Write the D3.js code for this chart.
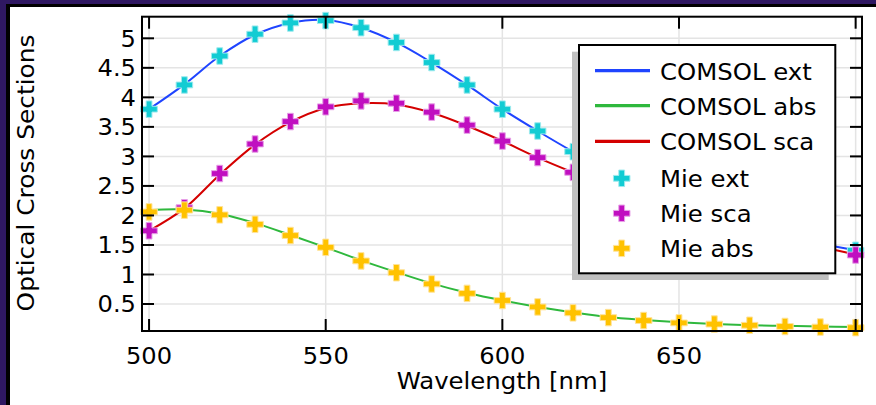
<!DOCTYPE html>
<html><head><meta charset="utf-8">
<script src="https://cdn.jsdelivr.net/npm/d3@7/dist/d3.min.js"></script>
<style>html,body{margin:0;padding:0;background:#fff;}svg{display:block;}</style>
</head><body>
<svg id="c" width="876" height="405"></svg>
<script>
// ---- data ----
const wavelengths = [500,510,520,530,540,550,560,570,580,590,600,610,620,630,640,650,660,670,680,690,700];
const mieExt = [3.80,4.21,4.70,5.07,5.26,5.30,5.18,4.93,4.59,4.21,3.80,3.43,3.08,2.76,2.47,2.21,1.99,1.81,1.65,1.52,1.41];
const mieSca = [1.74,2.13,2.71,3.21,3.59,3.84,3.94,3.90,3.75,3.53,3.26,2.98,2.73,2.50,2.29,2.10,1.93,1.77,1.62,1.47,1.33];
const mieAbs = [2.06,2.09,2.01,1.85,1.66,1.46,1.23,1.03,0.84,0.68,0.56,0.45,0.35,0.27,0.22,0.18,0.16,0.14,0.12,0.11,0.10];
const comsolExt = [3.80,4.22,4.70,5.06,5.26,5.31,5.18,4.93,4.59,4.21,3.80,3.43,3.08,2.76,2.47,2.21,1.99,1.81,1.65,1.52,1.41];
const comsolSca = [1.74,2.12,2.69,3.20,3.58,3.82,3.90,3.88,3.74,3.52,3.26,2.98,2.73,2.50,2.29,2.10,1.93,1.77,1.62,1.47,1.34];
const comsolAbs = [2.09,2.10,2.03,1.87,1.67,1.46,1.24,1.04,0.85,0.69,0.56,0.45,0.36,0.28,0.23,0.19,0.16,0.14,0.13,0.12,0.11];
const xTicks = [500,550,600,650,700];
const xTickLabels = ["500","550","600","650",""];
const yTicks = [0.5,1,1.5,2,2.5,3,3.5,4,4.5,5];
const yTickLabels = ["0.5","1","1.5","2","2.5","3","3.5","4","4.5","5"];
const legendLabels = ["COMSOL ext","COMSOL abs","COMSOL sca","Mie ext","Mie sca","Mie abs"];

const col = {ext:"#1f44ff", abs:"#2fb83d", sca:"#d40000", mExt:"#12ccd3", mSca:"#c00fc0", mAbs:"#ffc200"};
const light = {mExt:"#9eeaee", mSca:"#e7a0e7", mAbs:"#ffe39a"};

const svg = d3.select("#c");
const FONT = "DejaVu Sans, Verdana, sans-serif";
const L=142, R=862, T=16.7, B=331;
const x = d3.scaleLinear().domain([498, 701.8]).range([L, R]);
const y = d3.scaleLinear().domain([0.043, 5.366]).range([B, T]);

function stretch(sel, f){ sel.each(function(){ const w=this.getComputedTextLength(); if(w>0){ d3.select(this).attr("textLength", w*f).attr("lengthAdjust","spacingAndGlyphs"); } }); }

// frame
svg.append("rect").attr("x",0).attr("y",0).attr("width",876).attr("height",405).attr("fill","#fff");
svg.append("rect").attr("x",0).attr("y",0).attr("width",876).attr("height",5).attr("fill","#2f1862");
svg.append("rect").attr("x",0).attr("y",0).attr("width",6).attr("height",405).attr("fill","#2f1862");
svg.append("rect").attr("x",6).attr("y",4).attr("width",870).attr("height",3).attr("fill","#000");
svg.append("rect").attr("x",6).attr("y",4).attr("width",4).attr("height",401).attr("fill","#000");

// grid
const g = svg.append("g");
g.selectAll(".gx").data(xTicks).join("line").attr("x1",d=>x(d)).attr("x2",d=>x(d)).attr("y1",T).attr("y2",B).attr("stroke","#e4e4e4").attr("stroke-width",1.5);
g.selectAll(".gy").data(yTicks).join("line").attr("x1",L).attr("x2",R).attr("y1",d=>y(d)).attr("y2",d=>y(d)).attr("stroke","#e4e4e4").attr("stroke-width",1.5);

// lines
const line = d3.line().x((d,i)=>x(wavelengths[i])).y(d=>y(d)).curve(d3.curveCatmullRom);
[[comsolExt,col.ext],[comsolAbs,col.abs],[comsolSca,col.sca]].forEach(([arr,c])=>{
  svg.append("path").attr("d",line(arr)).attr("fill","none").attr("stroke",c).attr("stroke-width",2);
});

// plus marker
function plusPath(s,t){ const a=s/2, b=t/2;
  return `M${-b},${-a}H${b}V${-b}H${a}V${b}H${b}V${a}H${-b}V${b}H${-a}V${-b}H${-b}Z`; }
const PP = plusPath(16.5,5.8);
[[mieExt,"mExt"],[mieSca,"mSca"],[mieAbs,"mAbs"]].forEach(([arr,k])=>{
  svg.append("g").selectAll("path").data(arr).join("path")
    .attr("transform",(d,i)=>`translate(${x(wavelengths[i])},${y(d)})`)
    .attr("d",PP).attr("fill",col[k]).attr("stroke",light[k]).attr("stroke-width",1);
});

// axes box and ticks
const ax = svg.append("g").attr("stroke","#000").attr("stroke-width",2);
ax.append("rect").attr("x",L).attr("y",T).attr("width",R-L).attr("height",B-T).attr("fill","none");
ax.selectAll(".tb").data(xTicks).join("line").attr("x1",d=>x(d)).attr("x2",d=>x(d)).attr("y1",B).attr("y2",B-12);
ax.selectAll(".tt").data(xTicks).join("line").attr("x1",d=>x(d)).attr("x2",d=>x(d)).attr("y1",T).attr("y2",T+12);
ax.selectAll(".tl").data(yTicks).join("line").attr("x1",L).attr("x2",L+12).attr("y1",d=>y(d)).attr("y2",d=>y(d));
ax.selectAll(".tr").data(yTicks).join("line").attr("x1",R).attr("x2",R-12).attr("y1",d=>y(d)).attr("y2",d=>y(d));

// tick labels
const xl = svg.append("g").selectAll("text").data(xTicks).join("text")
  .attr("x",d=>x(d)).attr("y",364).attr("text-anchor","middle").attr("font-family",FONT).attr("font-size",23)
  .text((d,i)=>xTickLabels[i]);
stretch(xl,1.05);
const yl = svg.append("g").selectAll("text").data(yTicks).join("text")
  .attr("x",136).attr("y",d=>y(d)+8.4).attr("text-anchor","end").attr("font-family",FONT).attr("font-size",23)
  .text((d,i)=>yTickLabels[i]);
stretch(yl,1.05);

// axis titles
const xt = svg.append("text").attr("x",(L+R)/2).attr("y",389).attr("text-anchor","middle").attr("font-family",FONT).attr("font-size",23).text("Wavelength [nm]");
stretch(xt,1.06);
const yt = svg.append("text").attr("transform",`translate(34,173) rotate(-90)`).attr("text-anchor","middle").attr("font-family",FONT).attr("font-size",23).text("Optical Cross Sections");
stretch(yt,1.08);

// legend
const lg = svg.append("g");
lg.append("rect").attr("x",572).attr("y",51.7).attr("width",256.7).attr("height",228.3).attr("fill","#c0c0c0");
lg.append("rect").attr("x",579).attr("y",45).attr("width",256.3).attr("height",228.3).attr("fill","#fff").attr("stroke","#000").attr("stroke-width",2);
const rowY = [70.7,105.7,141.3,178.3,213.3,248.3];
const legendKinds = [["line",col.ext],["line",col.abs],["line",col.sca],["mark","mExt"],["mark","mSca"],["mark","mAbs"]];
legendLabels.forEach((lab,i)=>{
  const [kind,c] = legendKinds[i];
  if(kind==="line") lg.append("line").attr("x1",595).attr("x2",650).attr("y1",rowY[i]).attr("y2",rowY[i]).attr("stroke",c).attr("stroke-width",3.3);
  else lg.append("path").attr("transform",`translate(621.7,${rowY[i]})`).attr("d",PP).attr("fill",col[c]).attr("stroke",light[c]).attr("stroke-width",1);
  const t = lg.append("text").attr("x",660).attr("y",rowY[i]+9).attr("font-family",FONT).attr("font-size",23).text(lab);
  stretch(t,1.06);
});
</script>
</body></html>
